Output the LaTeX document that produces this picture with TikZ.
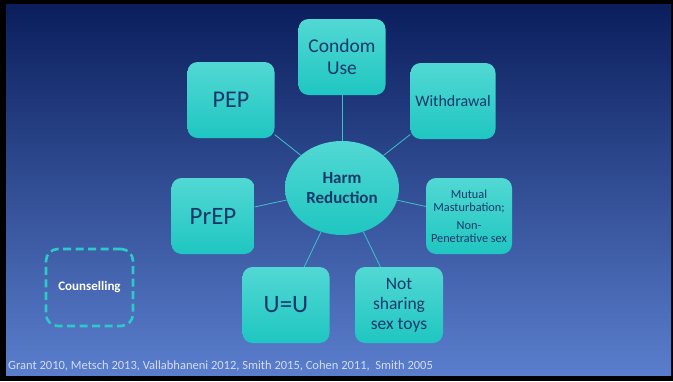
\documentclass[tikz,border=0pt]{standalone}
\usepackage{fontspec}
\setmainfont{Carlito}
\usetikzlibrary{shapes.geometric}
\definecolor{bgtop}{HTML}{0A1E5C}
\definecolor{bgbot}{HTML}{5A7ECD}
\definecolor{tealtop}{HTML}{52D8D4}
\definecolor{tealbot}{HTML}{1FC6C1}
\definecolor{navytext}{HTML}{17386B}
\definecolor{linkc}{HTML}{3CC3C6}
\definecolor{dashc}{HTML}{2CCBC8}
\definecolor{foot}{HTML}{D4DCF2}
\tikzset{
  box/.style={rectangle, rounded corners=10pt, top color=tealtop, bottom color=tealbot,
    draw=none, minimum width=87pt, minimum height=76pt, inner sep=2pt,
    text=navytext, align=center},
  hub/.style={ellipse, top color=tealtop, bottom color=tealbot, draw=none,
    minimum width=114pt, minimum height=94pt, inner sep=0pt, text=navytext, align=center},
  link/.style={draw=linkc, line width=0.8pt},
  dashbox/.style={rectangle, rounded corners=12pt, draw=dashc, line width=2.6pt,
    dash pattern=on 8pt off 4.5pt, minimum width=87pt, minimum height=77pt,
    text=white, align=center}
}
\begin{document}
\begin{tikzpicture}[x=1pt,y=-1pt]
  \fill[black] (0,0) rectangle (673,381);
  \shade[top color=bgtop, bottom color=bgbot] (6,4) rectangle (671,375);
  \useasboundingbox (0,0) rectangle (673,381);

  \node[hub, font=\fontsize{17}{20}\selectfont\bfseries] (hr) at (342,188) {Harm\\Reduction};

  \node[box, font=\fontsize{19.5}{21.5}\selectfont] (cu) at (342,57) {Condom\\Use};
  \node[box, font=\fontsize{24}{26}\selectfont] (pep) at (231,100) {PEP};
  \node[box, minimum width=85pt, font=\fontsize{16}{18}\selectfont] (wd) at (453,101) {Withdrawal};
  \node[box, minimum width=83pt, font=\fontsize{25}{27}\selectfont] (prep) at (213,216) {PrEP};
  \node[box, minimum width=86pt, font=\fontsize{12.3}{13}\selectfont] (mm) at (469,216) {Mutual\\Masturbation;\\[5pt]Non-\\Penetrative sex};
  \node[box, font=\fontsize{25}{27}\selectfont] (uu) at (286,305) {U=U};
  \node[box, minimum width=88pt, font=\fontsize{17.5}{20}\selectfont] (ns) at (399,305) {Not\\sharing\\sex toys};

  \draw[link] (hr) -- (cu);
  \draw[link] (hr) -- (pep);
  \draw[link] (hr) -- (wd);
  \draw[link] (hr) -- (prep);
  \draw[link] (hr) -- (mm);
  \draw[link] (hr) -- (uu);
  \draw[link] (hr) -- (ns);

  \node[dashbox, font=\fontsize{13}{15}\selectfont\bfseries] (cs) at (89.5,287.5) {Counselling};

  \node[anchor=base west, text=foot, inner sep=0pt, font=\fontsize{12.5}{14}\selectfont] (ft) at (8,369) {Grant 2010, Metsch 2013, Vallabhaneni 2012, Smith 2015, Cohen 2011,\ \ Smith 2005};
\end{tikzpicture}
\end{document}
